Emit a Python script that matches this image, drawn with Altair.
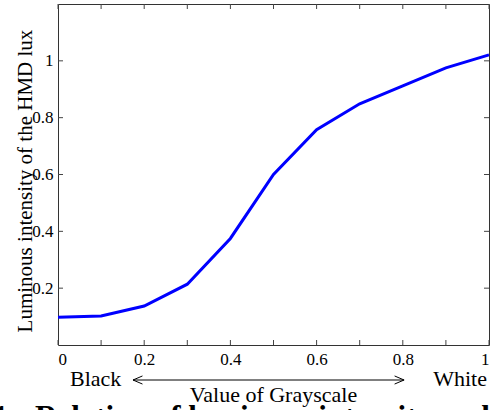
import altair as alt
import pandas as pd

# Data
grayscale = [0.0, 0.1, 0.2, 0.3, 0.4, 0.5, 0.6, 0.7, 0.8, 0.9, 1.0]
luminous = [0.098, 0.102, 0.137, 0.214, 0.375, 0.600, 0.758, 0.849, 0.912, 0.975, 1.021]

x_tick_values = [0.0, 0.1, 0.2, 0.3, 0.4, 0.5, 0.6, 0.7, 0.8, 0.9, 1.0]
x_label_values = [0.0, 0.2, 0.4, 0.6, 0.8, 1.0]
y_tick_values = [0.2, 0.4, 0.6, 0.8, 1.0]
arrow_ends = [0.174, 0.803]

FONT = "Liberation Serif"
W, H = 431, 341

df = pd.DataFrame({"g": grayscale, "l": luminous})
xt = pd.DataFrame({"x": x_tick_values})
yt = pd.DataFrame({"y": y_tick_values})

xscale = alt.Scale(domain=[0, 1], nice=False, zero=False)
yscale = alt.Scale(domain=[0, 1.2], nice=False, zero=False)

line = alt.Chart(df).mark_line(color="#0000ff", strokeWidth=3).encode(
    x=alt.X("g:Q", scale=xscale,
            axis=alt.Axis(values=x_label_values, format="~g", title=None, ticks=False,
                          tickSize=0, domain=False, grid=False, labelFont=FONT,
                          labelFontSize=17, labelColor="#000", labelPadding=6)),
    y=alt.Y("l:Q", scale=yscale,
            axis=alt.Axis(values=y_tick_values, format="~g", title=None, ticks=False,
                          tickSize=0, domain=False, grid=False, labelFont=FONT,
                          labelFontSize=17, labelColor="#000", labelPadding=5)),
)

tick_color = "#444"
bottom_ticks = alt.Chart(xt).mark_rule(color=tick_color, strokeWidth=1).encode(
    x=alt.X("x:Q", scale=xscale), y=alt.value(H), y2=alt.value(H - 5))
top_ticks = alt.Chart(xt).mark_rule(color=tick_color, strokeWidth=1).encode(
    x=alt.X("x:Q", scale=xscale), y=alt.value(0), y2=alt.value(5))
left_ticks = alt.Chart(yt).mark_rule(color=tick_color, strokeWidth=1).encode(
    y=alt.Y("y:Q", scale=yscale), x=alt.value(0), x2=alt.value(5))
right_ticks = alt.Chart(yt).mark_rule(color=tick_color, strokeWidth=1).encode(
    y=alt.Y("y:Q", scale=yscale), x=alt.value(W), x2=alt.value(W - 5))

ad = pd.DataFrame({"a": [arrow_ends[0]], "b": [arrow_ends[1]]})
arrow_line = alt.Chart(ad).mark_rule(color="#000", strokeWidth=1).encode(
    x=alt.X("a:Q", scale=xscale), x2="b:Q", y=alt.value(376))
left_head = alt.Chart(pd.DataFrame({"a": [arrow_ends[0]]})).mark_point(
    shape="M2,-0.85L0,0L2,0.85", filled=False, color="#000", strokeWidth=1, size=90, opacity=1
).encode(x=alt.X("a:Q", scale=xscale), y=alt.value(376))
right_head = alt.Chart(pd.DataFrame({"a": [arrow_ends[1]]})).mark_point(
    shape="M-2,-0.85L0,0L-2,0.85", filled=False, color="#000", strokeWidth=1, size=90, opacity=1
).encode(x=alt.X("a:Q", scale=xscale), y=alt.value(376))

def label(text, x, y, align="left", size=22, angle=0, weight="normal"):
    return alt.Chart(pd.DataFrame({"t": [text]})).mark_text(
        font=FONT, fontSize=size, color="#000", align=align, baseline="alphabetic",
        angle=angle, fontWeight=weight
    ).encode(text="t:N", x=alt.value(x), y=alt.value(y))

black_lbl = label("Black", 12, 382)
white_lbl = label("White", 429, 382, align="right")
xtitle = label("Value of Grayscale", W / 2, 398, align="center")
ytitle = label("Luminous intensity of the HMD  lux", -26, 177, align="center", angle=270, size=21)
cap1 = label("Fig. 1.", -42, 423, align="right", size=31, weight="bold")
cap2 = label("Relation of luminous intensity and grayscale", -23, 423, size=31, weight="bold")

chart = alt.layer(
    line, bottom_ticks, top_ticks, left_ticks, right_ticks,
    arrow_line, left_head, right_head,
    black_lbl, white_lbl, xtitle, ytitle, cap1, cap2,
).properties(
    width=W, height=H,
    autosize=alt.AutoSizeParams(type="none"),
    padding={"left": 58, "top": 4, "right": 2, "bottom": 65},
    background="white",
).configure_view(stroke="#333", strokeWidth=1)

chart.save("out.html", embed_options={"renderer": "svg", "actions": False})
